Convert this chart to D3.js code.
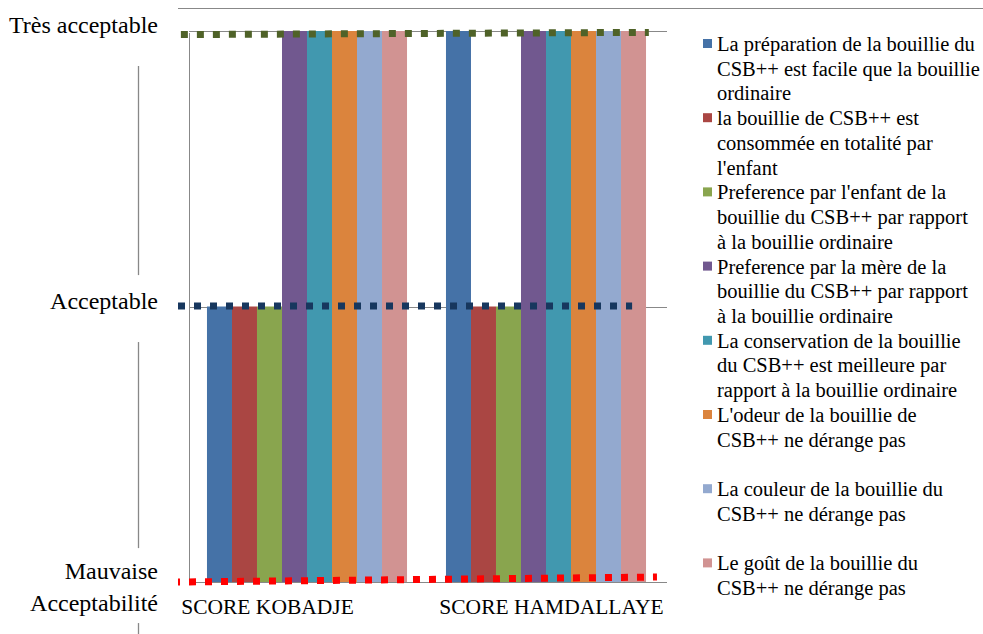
<!DOCTYPE html>
<html>
<head>
<meta charset="utf-8">
<script src="https://cdn.jsdelivr.net/npm/d3@7/dist/d3.min.js"></script>
<style>
  html, body { margin: 0; padding: 0; background: #fff; }
  svg { display: block; }
</style>
</head>
<body>
<svg id="chart" width="983" height="634" font-family="'Liberation Serif', Tinos, 'Times New Roman', 'DejaVu Serif', serif"></svg>
<script>
// ---------- DATA ----------
const categories = ["SCORE KOBADJE", "SCORE HAMDALLAYE"];

const seriesNames = [
  "La préparation de la bouillie du CSB++ est facile que la bouillie ordinaire",
  "la bouillie de CSB++ est consommée en totalité par l'enfant",
  "Preference par l'enfant de la bouillie du CSB++ par rapport à la bouillie ordinaire",
  "Preference par la mère de la bouillie du CSB++ par rapport à la bouillie ordinaire",
  "La conservation de la bouillie du CSB++ est meilleure par rapport à la bouillie ordinaire",
  "L'odeur de la bouillie de CSB++ ne dérange pas",
  "La couleur de la bouillie du CSB++ ne dérange pas",
  "Le goût de la bouillie du CSB++ ne dérange pas"
];

const legendLines = [
  ["La préparation de la bouillie du", "CSB++ est facile que la bouillie", "ordinaire"],
  ["la bouillie de CSB++ est", "consommée en totalité par", "l'enfant"],
  ["Preference par l'enfant de la", "bouillie du CSB++ par rapport", "à la bouillie ordinaire"],
  ["Preference par la mère de la", "bouillie du CSB++ par rapport", "à la bouillie ordinaire"],
  ["La conservation de la bouillie", "du CSB++ est meilleure par", "rapport à la bouillie ordinaire"],
  ["L'odeur de la bouillie de", "CSB++ ne dérange pas"],
  ["La couleur de la bouillie du", "CSB++ ne dérange pas"],
  ["Le goût de la bouillie du", "CSB++ ne dérange pas"]
];

// score per series (0 = Mauvaise Acceptabilité, 1 = Acceptable, 2 = Très acceptable)
const valuesKobadje    = [1, 1, 1, 2, 2, 2, 2, 2];
const valuesHamdallaye = [2, 1, 1, 2, 2, 2, 2, 2];

const tickValues = [0, 1, 2];
const tickLabels = [["Mauvaise", "Acceptabilité"], ["Acceptable"], ["Très acceptable"]];

// dotted reference lines (levels at start and end, in score units)
const refStart = [1.987, 1.002, 0.0];
const refEnd   = [1.995, 1.002, 0.018];

const colors = ["#4572A7", "#AA4643", "#89A54E", "#71588F", "#4198AF", "#DB843D", "#93A9CF", "#D19392"];
const refColors = ["#4F6228", "#17375E", "#FF0000"];

// ---------- LAYOUT ----------
const svg = d3.select("#chart");
const plot = { left: 189, right: 667, top: 31, bottom: 582 };
const grey = "#888888";

const y = d3.scaleLinear().domain([0, 2]).range([plot.bottom, plot.top]);
const x0 = d3.scaleBand().domain(categories).range([plot.left, plot.right]);
const groupW = x0.bandwidth() * 0.837;
const x1 = d3.scaleBand().domain(d3.range(seriesNames.length))
  .range([(x0.bandwidth() - groupW) / 2 - 1.5, (x0.bandwidth() + groupW) / 2 - 1.5]);
const xf = d3.scaleLinear().domain([0, 1]).range([plot.left, plot.right]);

const table = categories.map((c, i) => ({
  cat: c,
  vals: (i === 0 ? valuesKobadje : valuesHamdallaye)
}));

// top frame line
svg.append("line").attr("x1", 178).attr("x2", 983).attr("y1", 8.5).attr("y2", 8.5)
  .attr("stroke", grey).attr("stroke-width", 1);

// gridlines
svg.append("g").selectAll("line").data(tickValues.filter(v => v > 0)).join("line")
  .attr("x1", plot.left).attr("x2", plot.right)
  .attr("y1", d => Math.round(y(d)) + 0.5).attr("y2", d => Math.round(y(d)) + 0.5)
  .attr("stroke", grey).attr("stroke-width", 1);

// bars
const g = svg.append("g").selectAll("g").data(table).join("g")
  .attr("transform", d => `translate(${x0(d.cat)},0)`);
g.selectAll("rect").data(d => d.vals.map((v, i) => ({ v, i }))).join("rect")
  .attr("x", d => x1(d.i))
  .attr("width", x1.bandwidth())
  .attr("y", d => y(d.v))
  .attr("height", d => y(0) - y(d.v))
  .attr("fill", d => colors[d.i]);

// axes lines
svg.append("line").attr("x1", plot.left + 0.5).attr("x2", plot.left + 0.5)
  .attr("y1", plot.top + 2).attr("y2", plot.bottom).attr("stroke", grey);
svg.append("line").attr("x1", plot.left).attr("x2", plot.right)
  .attr("y1", plot.bottom + 0.5).attr("y2", plot.bottom + 0.5).attr("stroke", grey);

// dotted reference lines
const refX0 = [-0.017, -0.023, -0.023];
const refX1 = [0.962, 0.927, 0.979];
svg.append("g").selectAll("line").data(refStart).join("line")
  .attr("x1", (d, i) => xf(refX0[i])).attr("x2", (d, i) => xf(refX1[i]))
  .attr("y1", (d, i) => y(refStart[i])).attr("y2", (d, i) => y(refEnd[i]))
  .attr("stroke", (d, i) => refColors[i])
  .attr("stroke-width", 7)
  .attr("stroke-dasharray", "7 9")
  .attr("stroke-dashoffset", (d, i) => i === 2 ? 5 : 0);

// y tick labels
const yl = svg.append("g").selectAll("text").data(tickValues).join("text")
  .attr("text-anchor", "end")
  .attr("font-size", "24px");
yl.each(function (d, i) {
  const lines = tickLabels[i];
  const t = d3.select(this);
  lines.forEach((ln, k) => {
    t.append("tspan").attr("x", 158)
      .attr("y", lines.length > 1 ? y(d) - 3 + k * 32 : y(d) + 2)
      .text(ln);
  });
});

// broken vertical line at left of tick labels
const segs = [[1.873, 1.114], [0.871, 0.123], [-0.149, -0.189]];
svg.append("g").selectAll("line").data(segs).join("line")
  .attr("x1", 138.5).attr("x2", 138.5)
  .attr("y1", d => y(d[0])).attr("y2", d => y(d[1]))
  .attr("stroke", grey).attr("stroke-width", 1.3);

// category labels
const catOffsets = [-41, 4];
svg.append("g").selectAll("text").data(categories).join("text")
  .attr("x", (d, i) => x0(d) + x0.bandwidth() / 2 + catOffsets[i])
  .attr("y", 614)
  .attr("text-anchor", "middle")
  .attr("font-size", "21.5px")
  .text(d => d);

// legend
const lg = svg.append("g").selectAll("g").data(seriesNames).join("g")
  .attr("transform", (d, i) => `translate(703, ${51 + i * 74.2})`);
lg.append("rect").attr("x", 0).attr("y", -12).attr("width", 9).attr("height", 9)
  .attr("fill", (d, i) => colors[i]);
lg.append("text").attr("font-size", "20.5px")
  .each(function (d, i) {
    const t = d3.select(this);
    legendLines[i].forEach((ln, k) => {
      t.append("tspan").attr("x", 14).attr("y", k * 24.7).text(ln);
    });
  });
</script>
</body>
</html>
